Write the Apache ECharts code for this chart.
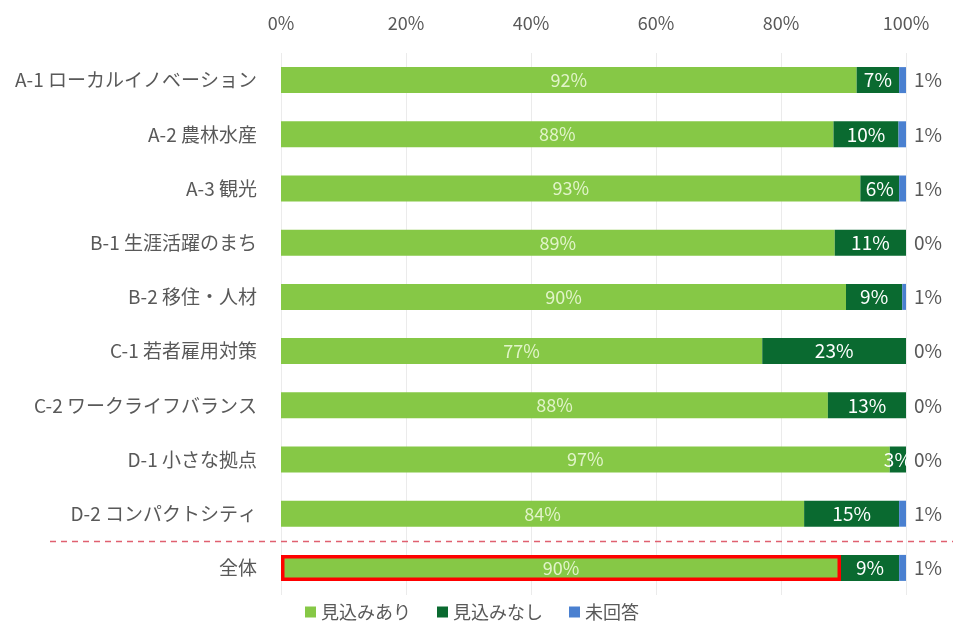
<!DOCTYPE html>
<html><head><meta charset="utf-8">
<script src="https://cdn.jsdelivr.net/npm/echarts@6/dist/echarts.min.js"></script>
<style>html,body{margin:0;padding:0;background:#fff}#c{width:953px;height:624px}</style>
</head><body><div id="c"></div>
<script>
var categories = ['A-1 ローカルイノベーション','A-2 農林水産','A-3 観光','B-1 生涯活躍のまち','B-2 移住・人材','C-1 若者雇用対策','C-2 ワークライフバランス','D-1 小さな拠点','D-2 コンパクトシティ','全体'];
var seriesNames = ['見込みあり','見込みなし','未回答'];
var mikomiAri   = [92.1, 88.4, 92.7, 88.6, 90.4, 77.0, 87.5, 97.4, 83.7, 89.6];
var mikomiNashi = [6.8, 10.4, 6.2, 11.4, 9.0, 23.0, 12.5, 2.6, 15.2, 9.3];
var mikaitou    = [1.1, 1.2, 1.1, 0.0, 0.6, 0.0, 0.0, 0.0, 1.1, 1.1];
var xTicks = [0, 20, 40, 60, 80, 100];

var FONT = '"Noto Sans CJK JP", "Noto Sans", sans-serif';
var colors = ['#86c846', '#0a6a30', '#4a80d0'];
var chart = echarts.init(document.getElementById('c'));
function fmt(p){ return Math.round(p.value) + '%'; }
var greenData = mikomiAri.map(function(v, i){
  if (i === categories.length - 1) return {value: v, itemStyle: {borderColor: '#ff0000', borderWidth: 3.5}};
  return v;
});
var option = {
  animation: false,
  textStyle: {fontFamily: FONT},
  grid: {left: 281, right: 47, top: 53, bottom: 29, containLabel: false},
  legend: {
    bottom: -2, left: 300, itemWidth: 11, itemHeight: 11, itemGap: 26, icon: 'rect',
    textStyle: {fontFamily: FONT, fontSize: 18, color: '#595959'},
    data: seriesNames
  },
  xAxis: {
    type: 'value', position: 'top', min: xTicks[0], max: xTicks[xTicks.length-1], interval: 20,
    axisLabel: {formatter: '{value}%', fontSize: 18, color: '#595959', margin: 21, fontFamily: FONT},
    axisLine: {show: false}, axisTick: {show: false},
    splitLine: {lineStyle: {color: '#ebebeb', width: 1}}
  },
  yAxis: {
    type: 'category', inverse: true, data: categories,
    axisLabel: {fontSize: 19, color: '#595959', margin: 24, fontFamily: FONT},
    axisLine: {show: false}, axisTick: {show: false}
  },
  series: [
    {name: seriesNames[0], type: 'bar', stack: 's', barWidth: 26, data: greenData,
     itemStyle: {color: colors[0]},
     label: {show: true, position: 'inside', formatter: fmt, color: 'rgba(235,248,215,0.9)', fontSize: 18, fontFamily: FONT}},
    {name: seriesNames[1], type: 'bar', stack: 's', barWidth: 26, data: mikomiNashi,
     itemStyle: {color: colors[1]},
     label: {show: true, position: 'inside', formatter: fmt, color: '#ffffff', fontSize: 19, fontFamily: FONT}},
    {name: seriesNames[2], type: 'bar', stack: 's', barWidth: 26, data: mikaitou,
     itemStyle: {color: colors[2]},
     label: {show: true, position: 'right', distance: 8, formatter: fmt, color: '#595959', fontSize: 19, fontFamily: FONT}}
  ]
};
chart.setOption(option);
// dashed separator between last two categories
var n = categories.length;
var pA = chart.convertToPixel({yAxisIndex: 0}, categories[n-2]);
var pB = chart.convertToPixel({yAxisIndex: 0}, categories[n-1]);
var ySep = Math.round((pA + pB) / 2) + 0.5;
chart.setOption({graphic: [{
  type: 'line', shape: {x1: 50, y1: ySep, x2: 953, y2: ySep},
  style: {stroke: '#e06070', lineWidth: 1.3, lineDash: [6, 5]}, z: 10
}]});
</script></body></html>
